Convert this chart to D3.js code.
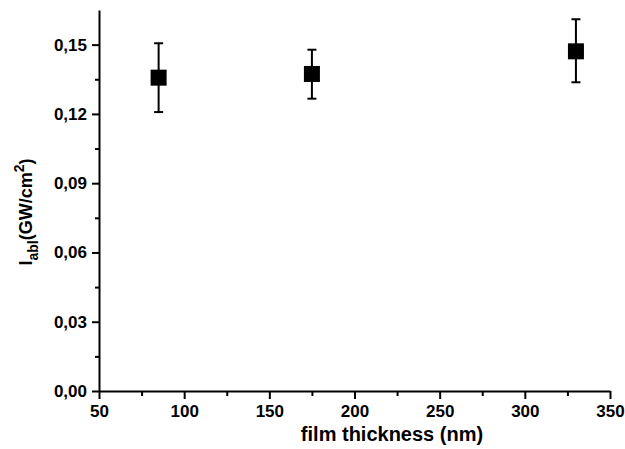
<!DOCTYPE html>
<html lang="en">
  <head>
    <meta charset="utf-8">
    <title>Ablation threshold vs film thickness</title>
    <script src="https://cdn.jsdelivr.net/npm/d3@7"></script>
    <style>
      body { margin: 0; background: #fff; }
      svg { font-family: "Liberation Sans", Arial, sans-serif; font-weight: bold; }
    </style>
  </head>
  <body>
    <script type="text/javascript">
      // data
      var thickness = [85, 175, 330];          // nm
      var threshold = [0.1357, 0.1373, 0.1471]; // GW/cm2
      var errLow = [0.1208, 0.1266, 0.1337];
      var errHigh = [0.1506, 0.1478, 0.1610];
      var xTicks = [50, 100, 150, 200, 250, 300, 350];
      var yTicks = [0, 0.03, 0.06, 0.09, 0.12, 0.15];

      "use strict";
      var width = 625, height = 449;
      // note: "top" is a reserved window global, so use plot* names
      var plotLeft = 99, plotRight = 610, plotTop = 10, plotBottom = 391;

      var svg = d3.select("body")
        .append("svg")
          .attr("width", width)
          .attr("height", height);

      var x = d3.scaleLinear().domain([50, 350]).range([plotLeft, plotRight]);
      var y = d3.scaleLinear().domain([0, 0.165]).range([plotBottom, plotTop]);

      var fmt = function (d) { return d3.format(".2f")(d).replace(".", ","); };

      // minor ticks first, then the main axes on top
      svg.append("g")
          .attr("transform", "translate(0," + plotBottom + ")")
          .call(d3.axisBottom(x).tickValues(d3.range(75, 350, 50)).tickSize(5).tickFormat(""))
          .call(function (g) { g.select(".domain").remove(); })
          .selectAll("line").attr("stroke-width", 2);

      svg.append("g")
          .attr("transform", "translate(" + plotLeft + ",0)")
          .call(d3.axisLeft(y).tickValues([0.015, 0.045, 0.075, 0.105, 0.135]).tickSize(4).tickFormat(""))
          .call(function (g) { g.select(".domain").remove(); })
          .selectAll("line").attr("stroke-width", 2);

      var xAxis = svg.append("g")
          .attr("transform", "translate(0," + plotBottom + ")")
          .call(d3.axisBottom(x).tickValues(xTicks).tickSize(8).tickSizeOuter(0).tickPadding(6));

      var yAxis = svg.append("g")
          .attr("transform", "translate(" + plotLeft + ",0)")
          .call(d3.axisLeft(y).tickValues(yTicks).tickSize(7).tickSizeOuter(0).tickPadding(5).tickFormat(fmt));

      [xAxis, yAxis].forEach(function (g) {
        g.select(".domain").attr("stroke-width", 2);
        g.selectAll(".tick line").attr("stroke-width", 2);
        g.selectAll("text")
          .style("font-family", "\"Liberation Sans\", Arial, sans-serif")
          .style("font-weight", "bold")
          .style("font-size", "17px")
          .attr("fill", "#000");
      });

      // error bars
      var pts = thickness.map(function (t, i) {
        return { t: t, v: threshold[i], lo: errLow[i], hi: errHigh[i] };
      });

      var bars = svg.append("g").attr("stroke", "#000").attr("stroke-width", 2);
      bars.selectAll(".stem").data(pts).enter().append("line")
          .attr("x1", function (d) { return x(d.t); })
          .attr("x2", function (d) { return x(d.t); })
          .attr("y1", function (d) { return y(d.lo); })
          .attr("y2", function (d) { return y(d.hi); });
      bars.selectAll(".capHi").data(pts).enter().append("line")
          .attr("x1", function (d) { return x(d.t) - 4.5; })
          .attr("x2", function (d) { return x(d.t) + 4.5; })
          .attr("y1", function (d) { return y(d.hi); })
          .attr("y2", function (d) { return y(d.hi); });
      bars.selectAll(".capLo").data(pts).enter().append("line")
          .attr("x1", function (d) { return x(d.t) - 4.5; })
          .attr("x2", function (d) { return x(d.t) + 4.5; })
          .attr("y1", function (d) { return y(d.lo); })
          .attr("y2", function (d) { return y(d.lo); });

      // square markers
      svg.selectAll(".pt").data(pts).enter().append("rect")
          .attr("x", function (d) { return x(d.t) - 8; })
          .attr("y", function (d) { return y(d.v) - 8; })
          .attr("width", 16)
          .attr("height", 16)
          .attr("fill", "#000");

      // axis titles
      svg.append("text")
          .attr("x", 392)
          .attr("y", 441)
          .attr("text-anchor", "middle")
          .style("font-size", "20px")
          .text("film thickness (nm)");

      var yl = svg.append("text")
          .attr("transform", "translate(32,212) rotate(-90)")
          .attr("text-anchor", "middle")
          .style("font-size", "18px");
      yl.append("tspan").text("I");
      yl.append("tspan").attr("dy", 6).style("font-size", "14px").text("abl");
      yl.append("tspan").attr("dy", -6).text("(GW/cm");
      yl.append("tspan").attr("dy", -8).style("font-size", "14px").text("2");
      yl.append("tspan").attr("dy", 8).text(")");
    </script>
  </body>
</html>
